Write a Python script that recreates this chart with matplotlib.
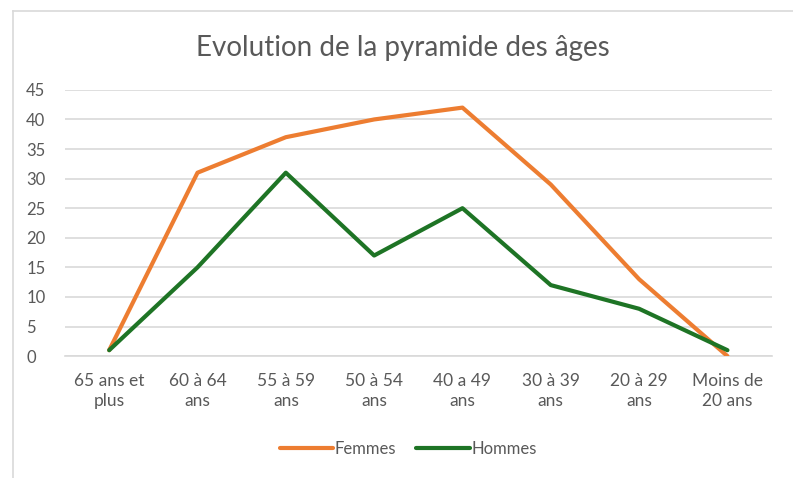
import matplotlib.pyplot as plt
from matplotlib.lines import Line2D

# Données
categories = ["65 ans et\nplus", "60 à 64\nans", "55 à 59\nans", "50 à 54\nans",
              "40 a 49\nans", "30 à 39\nans", "20 à 29\nans", "Moins de\n20 ans"]
femmes = [1, 31, 37, 40, 42, 29, 13, 0]
hommes = [1, 15, 31, 17, 25, 12, 8, 1]
y_ticks = [0, 5, 10, 15, 20, 25, 30, 35, 40, 45]

plt.rcParams['font.family'] = ['Lato', 'DejaVu Sans']

fig = plt.figure(figsize=(7.93, 4.78), dpi=100)
ax = fig.add_axes([0.082, 0.255, 0.891, 0.557])

x = list(range(len(categories)))
ax.plot(x, femmes, color='#ED7D31', lw=3, label='Femmes', solid_capstyle='round', zorder=3)
ax.plot(x, hommes, color='#1E7425', lw=3, label='Hommes', solid_capstyle='round', zorder=4)

ax.set_xlim(-0.5, len(categories) - 0.5)
ax.set_ylim(0, 45)
ax.set_yticks(y_ticks)
ax.set_xticks(x)
ax.set_xticklabels(categories, linespacing=1.3)
ax.tick_params(axis='both', length=0, colors='#595959', labelsize=12.5)
ax.tick_params(axis='y', pad=28, labelsize=12)
ax.tick_params(axis='x', pad=12)
for lab in ax.get_yticklabels():
    lab.set_horizontalalignment('left')
ax.grid(axis='y', color='#D9D9D9', lw=1.2)
ax.set_axisbelow(True)
for s in ['top', 'right', 'left']:
    ax.spines[s].set_visible(False)
ax.spines['bottom'].set_color('#D9D9D9')
ax.spines['bottom'].set_linewidth(1.2)

fig.text(0.508, 0.9, "Evolution de la pyramide des âges", ha='center', va='center',
         fontsize=20, color='#595959')

handles = [Line2D([], [], color='#ED7D31', lw=3, solid_capstyle='round'),
           Line2D([], [], color='#1E7425', lw=3, solid_capstyle='round')]
fig.legend(handles, ['Femmes', 'Hommes'], loc='center', bbox_to_anchor=(0.515, 0.06),
           ncol=2, frameon=False, fontsize=12, labelcolor='#595959',
           handlelength=3.2, handletextpad=0.1, columnspacing=1.2)

# cadre du graphique (gauche et haut)
fig.add_artist(Line2D([0.0164, 0.0164], [0, 0.977], color='#D9D9D9', lw=1.2))
fig.add_artist(Line2D([0.0164, 1.0], [0.977, 0.977], color='#D9D9D9', lw=1.2))

fig.savefig('out.png', dpi=100)
